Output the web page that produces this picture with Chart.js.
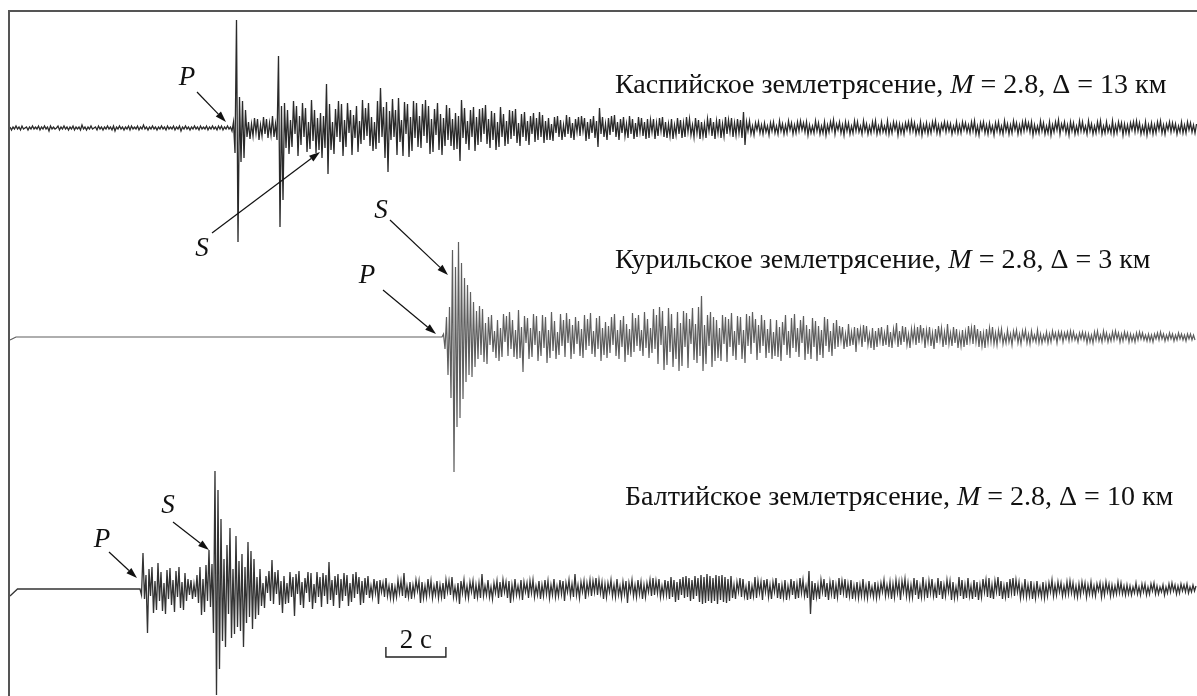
<!DOCTYPE html>
<html>
<head>
<meta charset="utf-8">
<script src="https://cdn.jsdelivr.net/npm/chart.js@4.4.1/dist/chart.umd.min.js"></script>
<style>
  html, body { margin: 0; padding: 0; background: #fff; }
  canvas { display: block; }
</style>
</head>
<body>
<canvas id="seismoChart" width="1197" height="696"></canvas>
<script>
// digitized records, one sample every 0.05 s (amplitude in counts)
const dt = 0.05;

const caspianStart = 0;
const caspianValues = [
  1,-2,1,-1,2,-1,1,-2,2,-1,0,1,-2,1,-1,2,-1,1,-1,2,
  -2,1,-1,2,-1,1,-3,2,-1,1,-1,0,2,-2,1,-1,2,-1,1,-2,
  1,-1,2,-2,1,-1,1,-2,3,-1,1,-2,1,-1,2,-1,0,1,-2,2,
  -1,1,-2,1,-1,2,-1,1,-2,2,-3,1,-1,2,-1,1,-2,1,-1,2,
  -2,2,-1,1,-1,2,-2,1,-1,3,-1,1,-2,1,-1,2,-1,1,-2,1,
  -1,2,-1,1,-2,2,-1,1,-1,2,-2,1,-1,2,-3,1,-1,2,-1,1,
  -2,1,-1,2,-1,1,-2,2,-1,1,-1,2,-2,1,-1,2,-1,1,-2,2,
  -1,2,-2,1,-1,2,-1,1,
  -3,6,-25,108,-114,31,-34,27,-30,18,
  -9,6,-11,4,-8,10,-5,9,-12,3,-8,11,-6,9,-10,5,-7,12,-9,4,
  -12,72,-99,22,-72,25,-20,18,
  -26,8,-19,27,-6,22,-28,12,-17,25,-9,20,-24,6,-21,28,-13,18,-25,10,-22,
  15,-30,12,-20,44,-46,24,
  -22,6,-26,19,-9,27,-14,24,-28,8,-19,25,-5,18,-27,13,-10,22,-24,7,
  -16,28,-12,20,-8,25,-18,11,-23,6,-21,27,-15,40,-9,21,-30,26,-44,17,
  -12,29,-9,18,-27,30,-14,8,-28,26,-6,24,-29,11,-23,27,-10,25,-19,12,
  -20,24,-8,28,-15,22,-26,9,-24,19,-7,25,-22,14,-27,10,-18,23,-12,20,
  -18,9,-22,15,-21,12,-33,28,-10,20,-16,7,-22,18,-9,21,-23,11,-17,19,
  -14,20,-6,23,-16,9,-20,17,-12,15,-22,6,-19,21,-9,14,-18,7,-16,18,
  -11,17,-8,19,-15,5,-18,14,-9,16,-13,7,-17,12,-6,15,-14,10,-12,16,
  -9,13,-15,7,-12,10,
  -12,4,-13,11,-5,12,-9,8,-12,3,-9,13,-6,11,-10,5,-12,9,-4,11,
  -8,12,-3,10,-13,6,-11,9,-5,12,-10,7,-19,20,-6,11,-9,4,-12,10,
  -7,12,-4,13,-9,6,-12,9,-5,11,-8,4,-10,12,-6,9,-11,5,-9,11,
  -4,10,-8,6,-11,9,
  -10,8,-4,9,-11,5,-8,10,-3,11,-9,6,-10,4,-8,9,-11,3,-7,10,
  -6,8,-10,5,-9,11,-4,9,-7,3,-9,10,-5,8,-11,6,-8,4,-10,9,
  -3,10,-8,6,-11,7,-5,9,-10,4,-8,11,-6,8,-4,10,-9,5,-7,9,
  -5,8,-10,16,-17,
  6,-3,7,-6,2,-7,5,-2,6,-5,3,-6,5,-4,2,-7,5,-3,6,-5,
  2,-6,7,-3,4,-6,3,-5,7,-2,5,-6,3,-5,6,-3,7,-2,5,-4,
  6,-7,3,-5,2,-5,7,-3,5,-6,2,-5,6,-7,3,-4,6,-2,8,-6,
  4,-2,6,-5,3,-7,6,-3,5,-6,2,-5,7,-3,6,-4,2,-6,7,-3,
  4,-6,2,-5,6,-3,7,-6,2,-5,6,-4,2,-5,7,-6,3,-5,6,-2,
  5,-7,4,-5,3,-6,5,-2,6,-4,7,-3,5,-6,2,-5,6,-7,3,-4,
  5,-6,3,-5,6,-2,7,-5,3,-6,4,-2,6,-4,5,-3,4,-6,2,-4,
  6,-5,3,-5,6,-2,5,-4,3,-5,6,-3,7,-6,2,-7,5,-2,6,-5,
  3,-6,5,-4,2,-7,5,-3,6,-5,2,-6,7,-3,4,-6,3,-5,7,-2,
  5,-6,3,-5,6,-3,7,-2,5,-4,6,-7,3,-5,2,-5,7,-3,5,-6,
  2,-5,6,-7,3,-4,6,-2,8,-6,4,-2,6,-5,3,-7,6,-3,5,-6,
  2,-5,7,-3,6,-4,2,-6,7,-3,4,-6,2,-5,6,-3,7,-6,2,-5,
  6,-4,2,-5,7,-6,3,-5,6,-2,5,-7,4,-5,3,-6,5,-2,6,-4,
  7,-3,5,-6,2,-5,6,-7,3,-4,5,-6,3,-5,6,-2,7,-5,3,-6,
  4,-2,6,-4,5,-3,4,-6,2,-4,6,-5,3,-5,6,-2,5,-4,3,-5,
  4
];

const kurilLeadTimes = [0, 0.2, 14.35];
const kurilLeadValues = [-3, 0, 0];
const kurilStart = 14.4;
const kurilValues = [
  0,3,-12,20,-38,30,-61,87,-135,70,-90,95,-81,74,-62,
  59,-45,52,-38,45,-40,35,
  -30,26,-22,31,-18,28,-25,14,-27,
  20,-8,22,-15,6,-21,17,-24,9,-20,23,-5,21,-19,25,-12,17,-20,7,-22,
  27,-21,10,-35,21,-6,19,-22,9,-20,23,-8,21,-24,6,-19,22,-11,20,-26,
  7,-21,25,-14,16,-22,5,-18,23,-9,17,-20,24,-6,18,-22,12,-17,20,-7,
  16,-19,8,-21,22,-13,18,-9,24,-17,6,-20,19,-12,21,-24,9,-18,15,-21,
  11,-16,20,-8,23,-19,7,-22,17,-10,21,-25,13,-18,8,-20,24,-15,19,-9,
  22,-14,7,-19,25,-11,18,-21,9,-16,
  28,-12,22,-27,30,-8,26,-33,11,-28,29,-15,23,-30,9,-22,25,-34,14,-29,
  26,-10,24,-31,18,-7,29,-23,13,-26,30,-19,41,-34,12,-27,22,-9,25,-30,
  20,-24,17,
  -21,9,-24,22,-7,20,-25,18,-10,24,-19,6,-23,21,-8,20,-22,7,-26,23,
  -9,21,-17,25,-6,18,-23,12,-16,22,-9,17,-21,8,-16,18,-22,5,-19,17,
  -20,10,-24,15,-8,22,-18,6,-21,19,-11,23,-15,9,-20,17,-6,21,-23,12,
  -17,8,-22,19,-10,16,-24,11,-18,7,-21,20,-9,18,-15,6,-19,14,-12,17,
  -10,
  11,-4,10,-12,3,-10,13,-9,5,-8,10,-15,9,-4,8,-10,12,-5,11,-8,
  3,-11,9,-13,6,-10,9,-4,10,-9,4,-8,12,-10,5,-11,8,-3,14,-10,
  6,-8,11,-5,10,-8,3,-11,8,-4,9,-8,10,-6,12,-3,9,-11,7,-5,
  10,-9,4,-12,8,-6,11,-3,9,-10,5,-8,13,-7,4,-9,10,-6,8,-11,
  3,-9,7,-10,5,-8,11,-4,9,-7,12,-5,8,-10,6,-9,4,-11,8,-6,
  9,-5,10,-7,4,-8,
  7,-3,8,-7,2,-6,7,-5,3,-8,6,-2,7,-6,3,-7,6,-2,7,-6,
  3,-7,6,-4,2,-5,7,-6,3,-6,2,-4,5,-6,3,-5,6,-2,4,-6,
  5,-2,5,-5,4,-2,5,-4,6,-3,5,-3,2,-5,4,-2,5,-3,4,-6,
  3,-5,2,-6,5,-3,6,-4,2,-5,6,-3,4,-5,2,-4,5,-3,6,-2,
  4,-5,3,-4,5,-2,4,-5,3,-4,2,-5,4,-3,5,-2,4,-3,2,-4,
  3,-4,2,-5,3,-2,4,-3,5,-2,3,-4,2,-3,4,-2,3,-4,2,-3,
  4,-2,3,-3,2,-4,3,-2,3,-3,2,-3
];

const balticLeadTimes = [0, 0.25, 4.28];
const balticLeadValues = [-7, 0, 0];
const balticStart = 4.333;
const balticValues = [
  0,-6,36,-10,14,-44,
  20,-7,22,-24,8,-21,26,-12,17,-22,6,-25,19,-10,21,-16,9,-23,18,-8,
  22,-19,7,-21,16,-12,10,-6,9,-10,5,-8,14,
  -14,22,-26,10,-23,24,-12,39,-18,25,-44,
  118,-106,99,-80,70,
  -52,30,-58,44,-25,61,-49,20,-45,53,-38,28,-42,35,-58,22,-34,47,-28,38,-40,30,
  -30,12,-26,20,
  -17,6,-19,13,-4,18,-12,29,-15,17,-5,19,-16,8,-24,13,-15,6,-14,17,
  -8,12,-27,15,-5,18,-16,7,-19,11,-4,17,-13,16,-20,5,-14,17,-8,12,
  -18,16,-7,14,-15,27,-11,9,-17,13,-6,15,-19,10,-12,16,-7,14,-17,6,
  -13,15,-9,17,-5,12,-16,8,-14,11,-6,13,
  -9,3,-8,10,-4,8,-15,9,-3,6,-8,11,-7,3,-9,6,-10,2,-8,9,
  -4,8,-7,16,-9,3,-8,7,-10,4,-6,9,-2,8,-14,7,-9,3,-8,10,
  -5,8,-9,3,-6,8,-9,4,-8,6,-10,9,-3,8,-6,12,-8,2,-9,6,
  -15,8,-4,9,-8,3,-9,7,-3,8,-10,4,-8,6,-9,15,-7,3,-6,9,
  -8,2,-10,6,-4,8,-9,7,-8,9,-3,7,-9,8,-14,4,-8,10,-6,3,
  -7,9,-11,7,-3,6,-9,8,-4,9,-8,3,-6,8,-10,4,-7,9,-5,8,
  -9,4,-6,10,-8,3,-7,9,-5,8,-12,6,-3,9,-7,5,-8,15,-6,4,
  -9,7,-3,8,-10,6,-4,9,-7,8,-3,11,-6,9,-4,7,-10,5,-8,6,
  -3,9,-7,4,-8,10,-6,3,-9,7,-5,8,-14,6,-3,9,-7,4,-8,9,
  -5,7,-10,4,-8,6,-3,9,-7,11,-6,8,-4,10,-8,3,-7,9,-6,8,
  -10,12,-8,9,-13,7,-11,10,-6,12,-9,13,-8,11,-12,9,-10,13,-7,11,
  -13,14,-15,12,-14,15,-12,13,-14,11,-12,14,-15,13,-11,14,-13,12,-14,10,-12,13,
  -9,4,-10,7,-3,11,-8,10,-7,2,-11,8,-10,3,-7,12,-9,8,-4,7,
  -11,9,-3,10,-8,4,-10,7,-3,11,-9,6,-10,4,-8,9,-11,3,-7,10,
  -6,8,-10,5,-9,11,-4,9,-7,3,-9,18,-25,8,-11,6,-8,4,-10,9,
  -3,10,-8,6,-11,7,-5,9,-10,4,-8,11,-6,8,-4,10,-9,5,-7,9,
  -10,3,-8,7,-9,4,-7,10,-8,3,-9,8,-6,2,-8,7,-9,4,-7,6,
  -3,9,-7,4,-6,7,-10,5,-8,9,-4,7,-11,8,-3,10,-7,6,-9,4,
  -8,11,-6,9,-10,3,-8,12,-7,5,-9,8,-4,10,-7,3,-9,11,-6,8,
  -10,4,-7,9,-3,8,-11,7,-9,2,-8,12,-7,9,-10,4,-9,11,-7,3,
  -10,9,-8,7,-11,4,-8,10,-3,9,-8,11,-9,4,-10,8,-3,12,-7,8,
  -10,3,-8,7,-9,10,-4,11,-7,9,-3,7,-9,3,-7,10,-8,4,-7,8,
  -10,3,-9,8,-6,2,-8,7,-9,4,-7,6,-3,9,-7,4,-6,7,-3,6,
  -7,3,-6,7,-5,8,-4,6,-7,3,-8,5,-6,7,-3,6,-8,4,-5,7,
  -6,3,-7,5,-2,6,-8,4,-6,7,-3,5,-7,4,-6,3,-5,7,-4,6,
  -5,3,-6,4,-5,3,
  -6,2,-4,6,-5,2,-6,5,-3,5,-6,2,-5,5,-2,6,-5,3,-5,2,
  -3,4,-6,2,-4,5,-3,6,-2,4,-5,3,-4,5,-2,4,-3,5,-4,2,
  -3,4,-2,3
];

const traceTitles = [
  ['Каспийское землетрясение, ', 'M', ' = 2.8, Δ = 13 км'],
  ['Курильское землетрясение, ', 'M', ' = 2.8, Δ = 3 км'],
  ['Балтийское землетрясение, ', 'M', ' = 2.8, Δ = 10 км']
];
const scaleBarSeconds = 2;
const scaleBarLabel = '2 с';

// vertical position of each trace (counts on the y axis)
const traceOffsets = [568, 359, 107];

function buildPoints(leadT, leadV, start, values, offset) {
  const pts = leadT.map((t, i) => ({ x: t, y: offset + leadV[i] }));
  values.forEach((v, i) => pts.push({ x: start + i * dt, y: offset + v }));
  return pts;
}

const serif = "'Liberation Serif', 'Times New Roman', serif";

function drawRich(ctx, parts, x, y, size) {
  parts.forEach((p, i) => {
    ctx.font = (i === 1 ? 'italic ' : '') + size + 'px ' + serif;
    ctx.fillText(p, x, y);
    x += ctx.measureText(p).width;
  });
}

function arrow(ctx, x1, y1, x2, y2) {
  const a = Math.atan2(y2 - y1, x2 - x1);
  const len = 11, half = 3.6;
  ctx.beginPath();
  ctx.moveTo(x1, y1);
  ctx.lineTo(x2 - len * Math.cos(a), y2 - len * Math.sin(a));
  ctx.stroke();
  ctx.beginPath();
  ctx.moveTo(x2, y2);
  ctx.lineTo(x2 - len * Math.cos(a) + half * Math.sin(a), y2 - len * Math.sin(a) - half * Math.cos(a));
  ctx.lineTo(x2 - len * Math.cos(a) - half * Math.sin(a), y2 - len * Math.sin(a) + half * Math.cos(a));
  ctx.closePath();
  ctx.fill();
}

// frame, phase labels, titles and time scale bar
const decorPlugin = {
  id: 'decor',
  afterDatasetsDraw(chart) {
    const { ctx, scales: { x, y } } = chart;
    ctx.save();
    ctx.strokeStyle = '#555';
    ctx.lineWidth = 2;
    ctx.beginPath();
    ctx.moveTo(9, 696);
    ctx.lineTo(9, 11);
    ctx.lineTo(1197, 11);
    ctx.stroke();

    ctx.fillStyle = '#111';
    ctx.strokeStyle = '#111';
    ctx.lineWidth = 1.2;
    ctx.textAlign = 'left';
    ctx.textBaseline = 'alphabetic';

    // phase arrows
    arrow(ctx, 197, 92, 226, 122);
    arrow(ctx, 212, 233, 320, 152);
    arrow(ctx, 390, 220, 448, 275);
    arrow(ctx, 383, 290, 436, 334);
    arrow(ctx, 109, 552, 137, 578);
    arrow(ctx, 173, 522, 209, 550);

    ctx.font = 'italic 27px ' + serif;
    ctx.textAlign = 'center';
    ctx.fillText('P', 187, 85);
    ctx.fillText('S', 202, 256);
    ctx.fillText('S', 381, 218);
    ctx.fillText('P', 367, 283);
    ctx.fillText('P', 102, 547);
    ctx.fillText('S', 168, 513);

    ctx.textAlign = 'left';
    drawRich(ctx, traceTitles[0], 615, 93, 28);
    drawRich(ctx, traceTitles[1], 615, 268, 28);
    drawRich(ctx, traceTitles[2], 625, 505, 28);

    // time scale bar
    const barStart = 12.53;
    const bx1 = x.getPixelForValue(barStart);
    const bx2 = x.getPixelForValue(barStart + scaleBarSeconds);
    const by = y.getPixelForValue(39);
    ctx.lineWidth = 1.4;
    ctx.strokeStyle = '#222';
    ctx.beginPath();
    ctx.moveTo(bx1, by - 10);
    ctx.lineTo(bx1, by);
    ctx.lineTo(bx2, by);
    ctx.lineTo(bx2, by - 10);
    ctx.stroke();
    ctx.font = '27px ' + serif;
    ctx.textAlign = 'center';
    ctx.fillText(scaleBarLabel, (bx1 + bx2) / 2, by - 9);
    ctx.restore();
  }
};

const config = {
  type: 'line',
  data: {
    datasets: [
      {
        label: 'Caspian',
        data: buildPoints([], [], caspianStart, caspianValues, traceOffsets[0]),
        borderColor: '#2a2a2a',
        borderWidth: 1.3,
      },
      {
        label: 'Kuril',
        data: buildPoints(kurilLeadTimes, kurilLeadValues, kurilStart, kurilValues, traceOffsets[1]),
        borderColor: '#5e5e5e',
        borderWidth: 1.2,
      },
      {
        label: 'Baltic',
        data: buildPoints(balticLeadTimes, balticLeadValues, balticStart, balticValues, traceOffsets[2]),
        borderColor: '#333',
        borderWidth: 1.3,
      },
    ],
  },
  options: {
    responsive: false,
    animation: false,
    devicePixelRatio: 1,
    layout: { padding: 0 },
    elements: {
      point: { radius: 0 },
      line: { tension: 0 },
    },
    plugins: {
      legend: { display: false },
      tooltip: { enabled: false },
    },
    scales: {
      x: { type: 'linear', display: false, min: -10 / 30, max: 1187 / 30 },
      y: { type: 'linear', display: false, min: 0, max: 696 },
    },
  },
  plugins: [decorPlugin],
};

const ctx = document.getElementById('seismoChart').getContext('2d');
new Chart(ctx, config);
</script>
</body>
</html>
